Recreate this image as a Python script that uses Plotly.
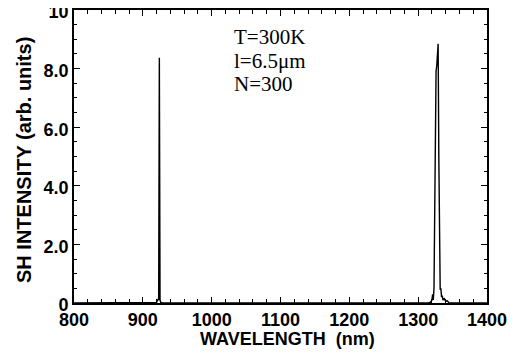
import plotly.graph_objects as go

# Wavelength (nm) and SH intensity (arb. units)
wavelength = [800, 915, 920, 921, 922, 923, 924, 925, 926, 928, 1315, 1318, 1320, 1321, 1322,
              1323, 1324, 1325, 1326, 1327, 1328, 1329, 1330, 1331, 1332, 1333, 1334, 1335,
              1336, 1338, 1340, 1342, 1345, 1400]
intensity = [0, 0, 0.02, 0.08, 0.12, 0.1, 8.37, 0.1, 0.02, 0, 0, 0.03, 0.1, 0.3, 0.1,
             0.5, 3.0, 6.0, 7.9, 8.1, 8.4, 8.85, 5.0, 1.2, 0.45, 0.5, 0.2, 0.25,
             0.1, 0.15, 0.05, 0.08, 0, 0]

x_ticks = [800, 900, 1000, 1100, 1200, 1300, 1400]
y_ticks = [0, 2, 4, 6, 8, 10]
y_tick_labels = ["0", "2.0", "4.0", "6.0", "8.0", "10"]
info_lines = ["T=300K", "l=6.5μm", "N=300"]

fig = go.Figure()
fig.add_trace(go.Scatter(x=wavelength, y=intensity, mode="lines",
                         line=dict(color="black", width=1.4), showlegend=False))

for i, t in enumerate(info_lines):
    fig.add_annotation(x=0.383, y=0, xref="paper", yref="paper", yshift=266 - i * 23.5,
                       text=t, showarrow=False, xanchor="left", yanchor="middle",
                       font=dict(family="Liberation Serif", size=21, color="black"))

bold = dict(family="Liberation Sans", color="black", weight="bold")

fig.add_annotation(x=0.518, y=0, xref="paper", yref="paper", yshift=-36,
                   text="WAVELENGTH  (nm)", showarrow=False,
                   xanchor="center", yanchor="middle", font=dict(size=18, **bold))
fig.add_annotation(x=0, y=0, xref="paper", yref="paper", xshift=-50, yshift=143,
                   text="SH INTENSITY (arb. units)", showarrow=False, textangle=-90,
                   xanchor="center", yanchor="middle", font=dict(size=20, **bold))

axis_common = dict(showline=True, linecolor="black", linewidth=1.6, mirror="allticks",
                   ticks="inside", ticklen=6, tickwidth=1.3, tickcolor="black",
                   showgrid=False, zeroline=False, automargin=False,
                   ticklabeloverflow="allow",
                   tickfont=dict(size=18, **bold))

fig.update_layout(
    width=519, height=354,
    margin=dict(l=66, r=40, t=2, b=59),
    paper_bgcolor="white", plot_bgcolor="white",
    xaxis=dict(range=[800, 1400], tickvals=x_ticks,
               minor=dict(dtick=20, ticks="inside", ticklen=4, tickcolor="black", tickwidth=1.2),
               **axis_common),
    yaxis=dict(range=[0, 10], tickvals=y_ticks, ticktext=y_tick_labels,
               ticklabelshift=2,
               minor=dict(dtick=0.5, ticks="inside", ticklen=3, tickcolor="black", tickwidth=1.2),
               **axis_common),
)

fig.write_html("out.html")
